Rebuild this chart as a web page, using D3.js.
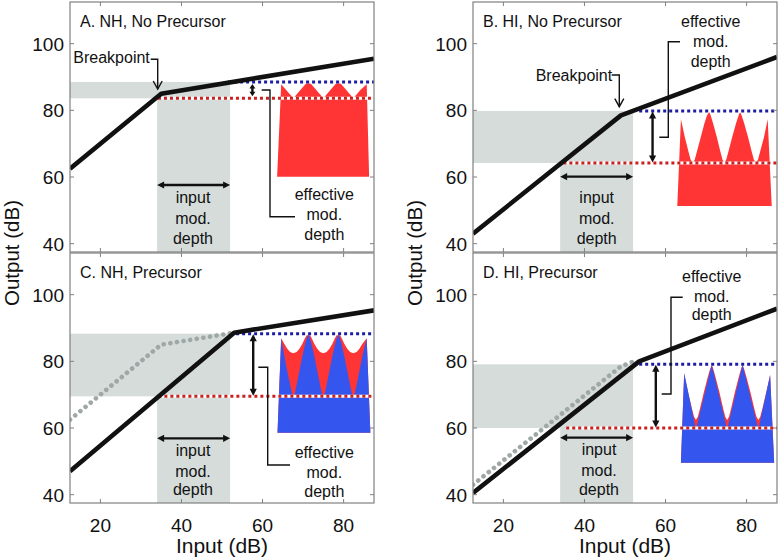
<!DOCTYPE html>
<html><head><meta charset="utf-8">
<script src="https://cdn.jsdelivr.net/npm/d3@7"></script>
<style>body{margin:0;background:#fff} svg{display:block} text{font-family:"Liberation Sans",Arial,Helvetica,sans-serif;fill:#111}</style>
</head><body><svg id="c" width="783" height="558"></svg>
<script>
// ---------- data ----------
const titles = ["A. NH, No Precursor", "B. HI, No Precursor", "C. NH, Precursor", "D. HI, Precursor"];
const xTicks = [20, 40, 60, 80];
const yTicks = [40, 60, 80, 100];
const xDomain = [12.5, 87.5];
const yDomain = [37.5, 112.5];

// input/output functions (input dB, output dB)
const ioNH       = [[12.5, 62.5], [35, 85], [87.5, 95.5]];
const ioHI       = [[12.5, 43], [49, 78.5], [87.5, 96]];
const ioNHprec   = [[12.5, 47], [53, 88.6], [87.5, 95.3]];
const ioHIprec   = [[12.5, 40.5], [53.5, 80], [87.5, 95.8]];
// no-precursor reference curves shown dotted in the precursor panels
const refNH = [[12.5, 62.5], [35, 85], [52, 88.4]];
const refHI = [[12.5, 43], [49, 78.5], [52, 79.9]];

const inRange   = [34, 52];
const outLo     = [83.6, 64.2, 69.5, 60.0];
const outHi     = [88.5, 79.8, 88.3, 79.1];
const redStart  = [34.2, 34.8, 34.3, 35.5];
const blueStart = [51.5, 53.5, 52.0, 53.5];
const depthArrowIn = [57.5, 56.8, 57.7, 57.6];
const inputArrowOut = [57.6, 60.1, 56.9, 57.1];

// modulated-signal outlines (input dB, output dB)
const waveA = [[63.6,60.1],[64.6,87.8],[66.1,85.7],[67.6,83.6],[69.5,86.3],[70.9,88.3],[71.3,88.5],[71.7,88.3],[73.1,86.3],[75.0,83.6],[76.9,86.3],[78.3,88.3],[78.7,88.5],[79.1,88.3],[80.5,86.3],[82.4,83.6],[84.2,86.2],[85.7,87.8],[86.3,60.1]];
const waveB = [[62.9,51.3],[63.8,77.3],[64.75,72.0],[65.7,67.4],[66.2,65.2],[66.7,64.3],[67.2,65.2],[67.7,67.4],[68.7,72.0],[69.6,76.1],[70.2,78.4],[70.8,79.6],[71.17,78.4],[71.72,76.1],[72.65,72.0],[73.57,67.4],[74.06,65.2],[74.5,64.3],[74.97,65.2],[75.47,67.4],[76.45,72.0],[77.4,76.1],[78.0,78.4],[78.4,79.6],[78.8,78.4],[79.4,76.1],[80.35,72.0],[81.3,67.4],[81.8,65.2],[82.3,64.3],[82.8,65.2],[83.3,67.4],[84.3,72.0],[85.2,77.3],[86.2,51.3]];
const waveCred = [[63.7,58.6],[64.6,86.9],[65.4,85.2],[66.1,83.8],[66.8,82.8],[67.6,82.4],[68.4,82.8],[69.1,83.8],[69.8,85.2],[70.4,86.8],[70.9,87.9],[71.3,88.3],[71.7,87.9],[72.2,86.8],[72.8,85.2],[73.5,83.8],[74.2,82.8],[75.0,82.4],[75.8,82.8],[76.5,83.8],[77.2,85.2],[77.8,86.8],[78.3,87.9],[78.7,88.3],[79.1,87.9],[79.6,86.8],[80.2,85.2],[80.9,83.8],[81.6,82.8],[82.4,82.4],[83.2,82.8],[83.9,83.8],[84.6,85.2],[85.7,86.9],[86.6,58.6]];
const waveCblue = [[63.7,58.6],[64.6,86.9],[65.4,81.5],[66.1,77.0],[66.9,72.5],[67.25,70.5],[67.6,68.8],[67.97,70.5],[68.34,72.5],[69.08,77.0],[69.82,81.5],[70.56,85.5],[70.93,87.0],[71.3,88.3],[71.67,87.0],[72.04,85.5],[72.78,81.5],[73.52,77.0],[74.26,72.5],[74.63,70.5],[75.0,68.8],[75.37,70.5],[75.74,72.5],[76.48,77.0],[77.22,81.5],[77.96,85.5],[78.33,87.0],[78.7,88.3],[79.07,87.0],[79.44,85.5],[80.18,81.5],[80.92,77.0],[81.66,72.5],[82.03,70.5],[82.4,68.8],[82.77,70.5],[83.14,72.5],[83.88,77.0],[84.62,81.5],[85.7,86.9],[86.6,58.6]];
const waveDred = [[63.8,49.6],[64.6,76.4],[65.57,70.7],[66.54,65.7],[67.04,63.4],[67.5,62.4],[67.97,63.4],[68.47,65.7],[69.45,70.7],[70.4,75.2],[70.99,77.7],[71.4,79.0],[71.78,77.7],[72.35,75.2],[73.3,70.7],[74.25,65.7],[74.74,63.4],[75.2,62.4],[75.66,63.4],[76.15,65.7],[77.1,70.7],[78.05,75.2],[78.62,77.7],[79.0,79.0],[79.39,77.7],[79.98,75.2],[80.95,70.7],[81.93,65.7],[82.43,63.4],[82.9,62.4],[83.37,63.4],[83.87,65.7],[84.85,70.7],[85.8,75.9],[86.8,49.6]];
const waveDblue = [[63.8,49.6],[64.6,76.4],[67.5,59.6],[71.4,79.0],[75.2,59.6],[79.0,79.0],[82.9,59.6],[85.8,75.9],[86.8,49.6]];

const ioCurves = [ioNH, ioHI, ioNHprec, ioHIprec];
const refCurves = [null, null, refNH, refHI];
const redWaves = [waveA, waveB, waveCred, waveDred];
const blueWaves = [null, null, waveCblue, waveDblue];

// ---------- layout ----------
const cols = [70, 473], rows = [2, 253], pw = 304, ph = 250;
const bandCol = "#d5dcda", frameCol = "#808080";
const redFill = "#ff3535", blueFill = "#3456ee";
const redDot = "#cc2020", blueDot = "#1c1ca8";

// annotation layout, panel-local pixels
const ann = [
  {bp: {tx: 3.3, ty: 61, path: [[80.7,57.3],[87.7,57.3],[87.7,87]]},
   inp: {cx: 123, ys: [201, 221.5, 242]},
   eff: {cx: 254.3, ys: [198, 218, 238], path: [[191.7,88],[200,88],[200,214.7],[225,214.7]]}},
  {bp: {tx: 62.7, ty: 79, path: [[138.7,73],[146.3,73],[146.3,104.7]]},
   inp: {cx: 123.7, ys: [201, 221.5, 242]},
   eff: {cx: 237.7, ys: [25, 45, 64.5], path: [[186.3,135.3],[195.3,135.3],[195.3,39.7],[207,39.7]]}},
  {bp: null,
   inp: {cx: 123, ys: [203, 223.5, 242]},
   eff: {cx: 254.3, ys: [205, 225, 244], path: [[188.3,114.3],[197.7,114.3],[197.7,212],[220,212]]}},
  {bp: null,
   inp: {cx: 126, ys: [202, 222.5, 242]},
   eff: {cx: 238.7, ys: [28.5, 48.5, 67], path: [[188.7,141],[198,141],[198,44.3],[209.7,44.3]]}}
];

const svg = d3.select("#c");
const defs = svg.append("defs");

function head(g, tip, dir, len, hw) {
  const [tx, ty] = tip, [dx, dy] = dir;
  const bx = tx - dx * len, by = ty - dy * len;
  const px = -dy, py = dx;
  g.append("polygon")
    .attr("points", [[tx,ty],[bx + px*hw, by + py*hw],[bx - px*hw, by - py*hw]].map(p => p.join(",")).join(" "))
    .attr("fill", "#111");
}
function dblArrow(g, a, b, len, hw) {
  const L = Math.hypot(b[0]-a[0], b[1]-a[1]);
  const d = [(b[0]-a[0])/L, (b[1]-a[1])/L];
  g.append("line").attr("x1", a[0] + d[0]*len*0.6).attr("y1", a[1] + d[1]*len*0.6)
    .attr("x2", b[0] - d[0]*len*0.6).attr("y2", b[1] - d[1]*len*0.6)
    .attr("stroke", "#111").attr("stroke-width", 2.4);
  head(g, b, d, len, hw);
  head(g, a, [-d[0], -d[1]], len, hw);
}

titles.forEach((title, i) => {
  const ox = cols[i % 2], oy = rows[Math.floor(i / 2)];
  const g = svg.append("g").attr("transform", `translate(${ox},${oy})`);
  const x = d3.scaleLinear().domain(xDomain).range([0, pw]);
  const y = d3.scaleLinear().domain(yDomain).range([ph, 0]);
  const line = d3.line().x(d => x(d[0])).y(d => y(d[1]));

  defs.append("clipPath").attr("id", "clip" + i)
    .append("rect").attr("width", pw).attr("height", ph);
  const p = g.append("g").attr("clip-path", `url(#clip${i})`);

  // shaded input / output ranges
  p.append("rect").attr("x", x(xDomain[0])).attr("y", y(outHi[i]))
    .attr("width", x(inRange[1]) - x(xDomain[0])).attr("height", y(outLo[i]) - y(outHi[i]))
    .attr("fill", bandCol);
  p.append("rect").attr("x", x(inRange[0])).attr("y", y(outLo[i]))
    .attr("width", x(inRange[1]) - x(inRange[0])).attr("height", y(yDomain[0]) - y(outLo[i]))
    .attr("fill", bandCol);

  // modulated signal insets
  p.append("path").attr("d", line(redWaves[i]) + "Z").attr("fill", redFill);
  if (blueWaves[i]) p.append("path").attr("d", line(blueWaves[i]) + "Z").attr("fill", blueFill);

  // dotted level lines
  const lvl = (x0, v, col) => {
    const pts = [[x0, v], [xDomain[1], v]];
    p.append("path").attr("d", line(pts)).attr("stroke", "#fff").attr("stroke-width", 3).attr("fill", "none");
    p.append("path").attr("d", line(pts)).attr("stroke", col).attr("stroke-width", 3)
      .attr("stroke-dasharray", "3,3").attr("fill", "none");
  };
  lvl(redStart[i], outLo[i], redDot);
  lvl(blueStart[i], outHi[i], blueDot);

  // reference (no precursor) curve
  if (refCurves[i]) p.append("path").attr("d", line(refCurves[i])).attr("fill", "none")
    .attr("stroke", "#9fa7a7").attr("stroke-width", 4.6).attr("stroke-linecap", "round")
    .attr("stroke-dasharray", "0.1,6.6");

  // I/O function
  p.append("path").attr("d", line(ioCurves[i])).attr("fill", "none")
    .attr("stroke", "#111").attr("stroke-width", 4.6).attr("stroke-linejoin", "round");

  // arrows
  dblArrow(g, [x(inRange[0]), y(inputArrowOut[i])], [x(inRange[1]), y(inputArrowOut[i])], 7, 3.6);
  const small = (y(outLo[i]) - y(outHi[i])) < 25;
  dblArrow(g, [x(depthArrowIn[i]), y(outHi[i]) + (small ? 2 : 0.5)],
              [x(depthArrowIn[i]), y(outLo[i]) - (small ? 2 : 0.5)], small ? 4.5 : 7, small ? 3 : 3.6);

  // annotations
  const a = ann[i];
  const conn = d3.line();
  if (a.bp) {
    g.append("text").attr("x", a.bp.tx).attr("y", a.bp.ty).attr("font-size", 16).text("Breakpoint");
    g.append("path").attr("d", conn(a.bp.path)).attr("fill", "none").attr("stroke", "#111").attr("stroke-width", 1.4);
    const t = a.bp.path[a.bp.path.length - 1];
    g.append("path").attr("d", conn([[t[0]-4.5, t[1]-8], t, [t[0]+4.5, t[1]-8]]))
      .attr("fill", "none").attr("stroke", "#111").attr("stroke-width", 1.4);
  }
  ["input", "mod.", "depth"].forEach((s, k) =>
    g.append("text").attr("x", a.inp.cx).attr("y", a.inp.ys[k]).attr("text-anchor", "middle").attr("font-size", 16).text(s));
  ["effective", "mod.", "depth"].forEach((s, k) =>
    g.append("text").attr("x", a.eff.cx).attr("y", a.eff.ys[k]).attr("text-anchor", "middle").attr("font-size", 16).text(s));
  g.append("path").attr("d", conn(a.eff.path)).attr("fill", "none").attr("stroke", "#111").attr("stroke-width", 1.4);

  // title
  g.append("text").attr("x", 10).attr("y", 25).attr("font-size", 16).text(title);

  // frame and ticks
  const tk = g.append("g").attr("stroke", frameCol).attr("stroke-width", 1);
  xTicks.forEach(v => {
    tk.append("line").attr("x1", x(v)).attr("x2", x(v)).attr("y1", ph).attr("y2", ph - 4);
    tk.append("line").attr("x1", x(v)).attr("x2", x(v)).attr("y1", 0).attr("y2", 4);
  });
  yTicks.forEach(v => {
    tk.append("line").attr("x1", 0).attr("x2", 4).attr("y1", y(v)).attr("y2", y(v));
    tk.append("line").attr("x1", pw).attr("x2", pw - 4).attr("y1", y(v)).attr("y2", y(v));
  });
  g.append("rect").attr("width", pw).attr("height", ph).attr("fill", "none").attr("stroke", frameCol).attr("stroke-width", 1.2);

  yTicks.forEach(v => g.append("text").attr("x", -6).attr("y", y(v)).attr("dy", "0.36em")
    .attr("text-anchor", "end").attr("font-size", 19).text(v));
  if (i >= 2) {
    xTicks.forEach(v => g.append("text").attr("x", x(v)).attr("y", ph + 29)
      .attr("text-anchor", "middle").attr("font-size", 19).text(v));
    g.append("text").attr("x", pw / 2).attr("y", ph + 50).attr("text-anchor", "middle")
      .attr("font-size", 21).text("Input (dB)");
  } else {
    g.append("text").attr("transform", `translate(-51,${ph + 1}) rotate(-90)`)
      .attr("text-anchor", "middle").attr("font-size", 20.5).text("Output (dB)");
  }
});
</script></body></html>
